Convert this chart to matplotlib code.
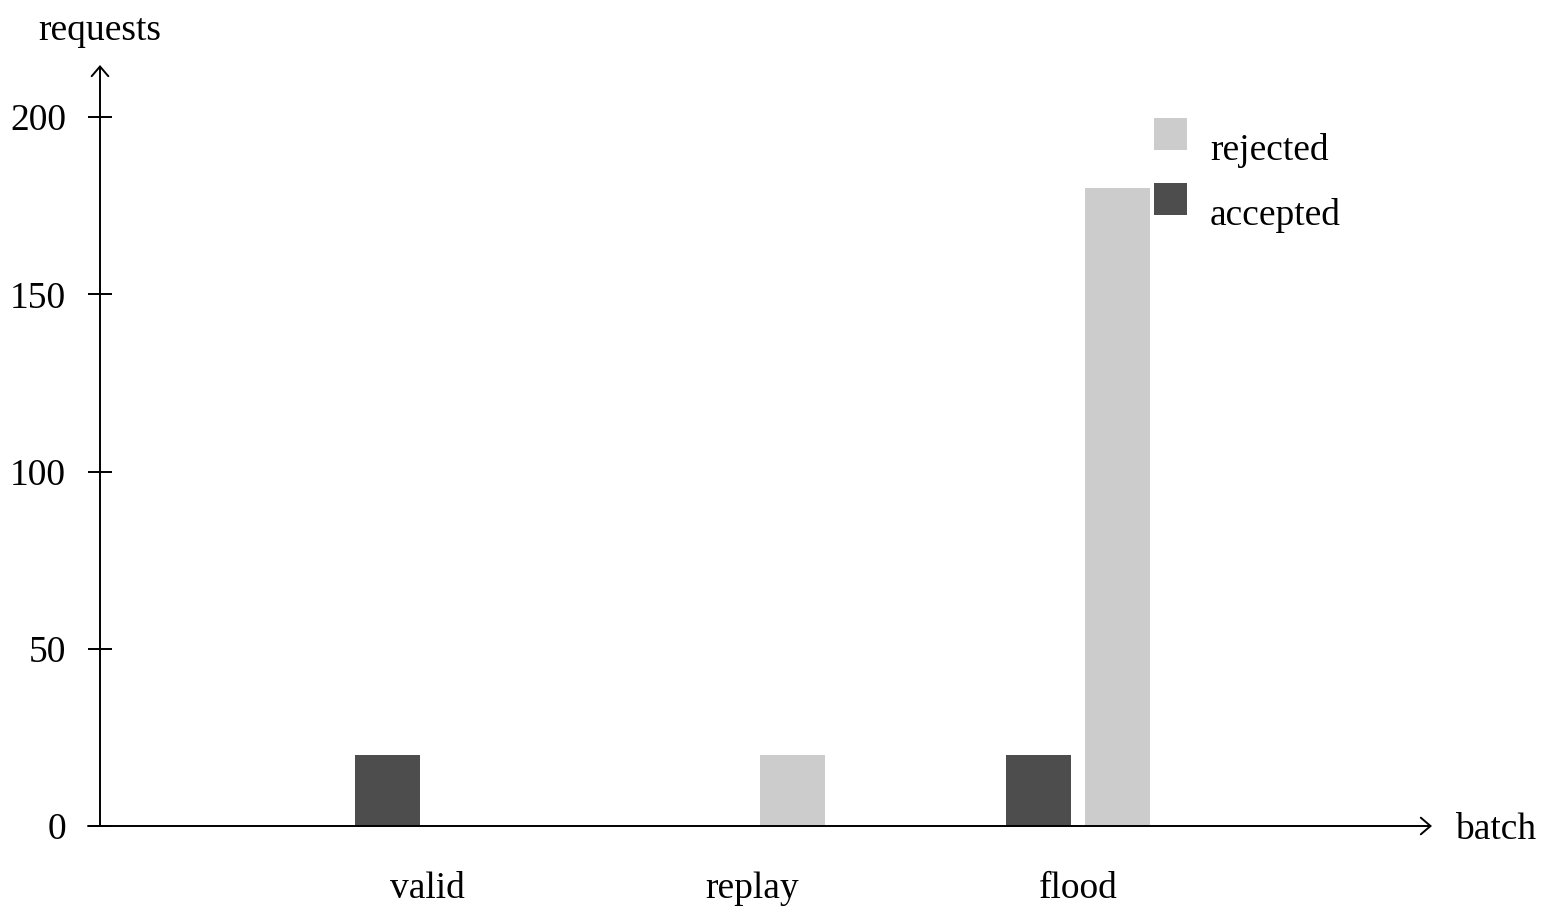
import matplotlib
matplotlib.use("Agg")
import numpy as np
import matplotlib.pyplot as plt
from matplotlib.patches import Patch
from matplotlib.transforms import ScaledTranslation

batches = ["valid", "replay", "flood"]
accepted = [20, 0, 20]
rejected = [0, 20, 180]
yticks = [0, 50, 100, 150, 200]

plt.rcParams['font.family'] = ['Liberation Serif', 'DejaVu Serif']
fs = 27
dark = "#4d4d4d"
light = "#cccccc"

W, H = 1553, 921
fig = plt.figure(figsize=(W / 100, H / 100), dpi=100)
ax = fig.add_axes([100 / W, 1 - 826 / H, 1332 / W, (826 - 65) / H])

x = np.arange(len(batches))
ax.bar(x - 0.122, accepted, 0.2, color=dark, edgecolor="none")
ax.bar(x + 0.122, rejected, 0.2, color=light, edgecolor="none")

ax.set_xlim(-1.005, 3.088)
ax.set_ylim(0, 214.7)
for s in ax.spines.values():
    s.set_visible(False)

ax.set_xticks(x)
ax.set_xticklabels(batches, fontsize=fs)
ax.tick_params(axis="x", length=0, pad=33)
ax.set_yticks(yticks)
ax.set_yticklabels([str(v) for v in yticks], fontsize=fs)
ax.tick_params(axis="y", direction="inout", length=17, width=1.4, pad=16)

# axis lines with arrows
arr = dict(arrowstyle="->,head_length=0.35,head_width=0.3", lw=1.4,
           color="black", shrinkA=0, shrinkB=0, mutation_scale=20)
ax.annotate("", xy=(1, 0), xytext=(-0.009, 0), xycoords="axes fraction",
            arrowprops=arr, annotation_clip=False)
ax.annotate("", xy=(0, 1), xytext=(0, 0), xycoords="axes fraction",
            arrowprops=arr, annotation_clip=False)

fig.text(100 / W, 1 - 31 / H, "requests", fontsize=fs, ha="center", va="center")
fig.text(1455 / W, 1 - 830 / H, "batch", fontsize=fs, ha="left", va="center")

handles = [Patch(facecolor=light, edgecolor="none", label="rejected"),
           Patch(facecolor=dark, edgecolor="none", label="accepted")]
leg = fig.legend(handles=handles, loc="upper left",
                 bbox_to_anchor=(1154 / W, 1 - 118 / H), frameon=False, fontsize=fs,
                 handlelength=0.89, handleheight=0.94, handletextpad=0.6,
                 labelspacing=0.75, borderpad=0, borderaxespad=0)
# legend text sits a bit lower than the swatch, as in the original
shift = ScaledTranslation(0, -13 / 100, fig.dpi_scale_trans)
for t in leg.get_texts():
    t.set_transform(t.get_transform() + shift)

fig.savefig("out.png", dpi=100)
